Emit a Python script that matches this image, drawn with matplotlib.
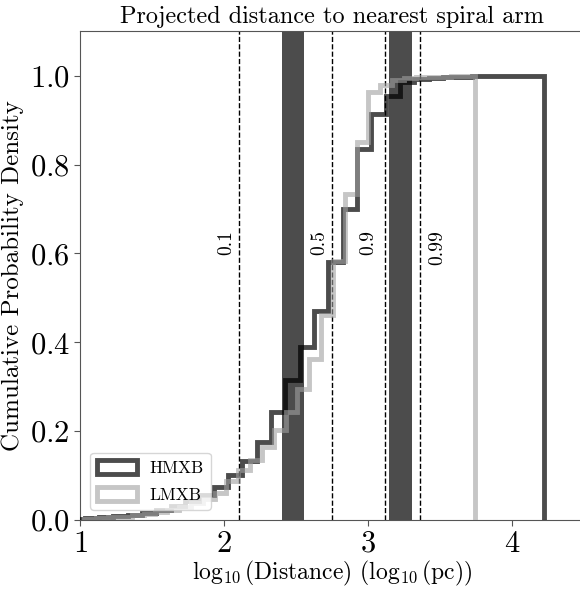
import numpy as np
import matplotlib
matplotlib.use("Agg")
import matplotlib.pyplot as plt
import matplotlib.patches as mpatches

plt.rcParams["font.family"] = "cmr10"
plt.rcParams["mathtext.fontset"] = "cm"
plt.rcParams["axes.formatter.use_mathtext"] = True
plt.rcParams["axes.unicode_minus"] = False

# cumulative histograms (log10 pc)
hmxb_edges = [0.932, 1.032, 1.131, 1.231, 1.331, 1.430, 1.530, 1.629, 1.729, 1.829,
              1.928, 2.028, 2.127, 2.227, 2.326, 2.426, 2.525, 2.625, 2.725, 2.824,
              2.924, 3.023, 3.123, 3.222, 3.322, 3.421, 3.521, 3.620, 3.720, 3.820,
              3.919, 4.019, 4.119, 4.225]
hmxb_cdf = [0.003, 0.005, 0.007, 0.009, 0.012, 0.017, 0.023, 0.031, 0.043, 0.057,
            0.075, 0.101, 0.133, 0.175, 0.243, 0.316, 0.389, 0.470, 0.580, 0.700,
            0.835, 0.914, 0.955, 0.985, 0.992, 0.995, 0.997, 0.998, 0.999, 0.999,
            1.0, 1.0, 1.0]

lmxb_edges = [1.030, 1.112, 1.194, 1.277, 1.359, 1.441, 1.523, 1.605, 1.688, 1.770,
              1.852, 1.934, 2.016, 2.099, 2.181, 2.263, 2.345, 2.427, 2.510, 2.592,
              2.674, 2.756, 2.838, 2.921, 3.003, 3.085, 3.167, 3.249, 3.332, 3.414,
              3.496, 3.578, 3.660, 3.742]
lmxb_cdf = [0.002, 0.004, 0.006, 0.008, 0.011, 0.014, 0.018, 0.023, 0.030, 0.038,
            0.048, 0.061, 0.088, 0.112, 0.135, 0.165, 0.202, 0.243, 0.296, 0.363,
            0.461, 0.584, 0.734, 0.850, 0.963, 0.978, 0.990, 0.994, 0.996, 0.997,
            0.998, 0.999, 1.0]

# quantile lines and arm bands
quant_x = [2.104, 2.75, 3.118, 3.36]
quant_labels = ["0.1", "0.5", "0.9", "0.99"]
quant_text_x = [2.014, 2.66, 3.0, 3.48]
arm_bands = [(2.40, 2.556), (3.146, 3.305)]

fig = plt.figure(figsize=(5.8, 5.89), dpi=100)
ax = fig.add_axes([0.138, 0.117, 0.869, 0.830])

for lo, hi in arm_bands:
    ax.axvspan(lo, hi, color="black", alpha=0.7, lw=0, zorder=1)

for q, tx, lab in zip(quant_x, quant_text_x, quant_labels):
    ax.axvline(q, color="black", ls="--", lw=1, zorder=2)
    ax.text(tx, 0.652, lab, rotation=90, ha="center", va="top", fontsize=14)

ax.stairs(hmxb_cdf, hmxb_edges, color="black", alpha=0.7, lw=3.5, zorder=3)
ax.stairs(lmxb_cdf, lmxb_edges, color="#a0a0a0", alpha=0.6, lw=3.5, zorder=4)

ax.set_xlim(1, 4.5)
ax.set_ylim(0, 1.1)
ax.set_xticks([1, 2, 3, 4])
ax.set_yticks([0.0, 0.2, 0.4, 0.6, 0.8, 1.0])
ax.tick_params(labelsize=22, color="#555555", length=4)
for s in ax.spines.values():
    s.set_color("#555555")

ax.set_title("Projected distance to nearest spiral arm", fontsize=17.5)
ax.set_xlabel(r"$\log_{10}$(Distance) ($\log_{10}$(pc))", fontsize=17, labelpad=1)
ax.set_ylabel("Cumulative Probability Density", fontsize=18)

handles = [mpatches.Patch(facecolor="none", edgecolor="black", alpha=0.7, lw=3.5, label="HMXB"),
           mpatches.Patch(facecolor="none", edgecolor="#a0a0a0", alpha=0.6, lw=3.5, label="LMXB")]
ax.legend(handles=handles, loc="lower left", fontsize=12.5, handlelength=2.3,
          handleheight=0.9, labelspacing=0.6, borderpad=0.4, borderaxespad=0.6,
          handletextpad=0.7)

fig.savefig("out.png", dpi=100)
